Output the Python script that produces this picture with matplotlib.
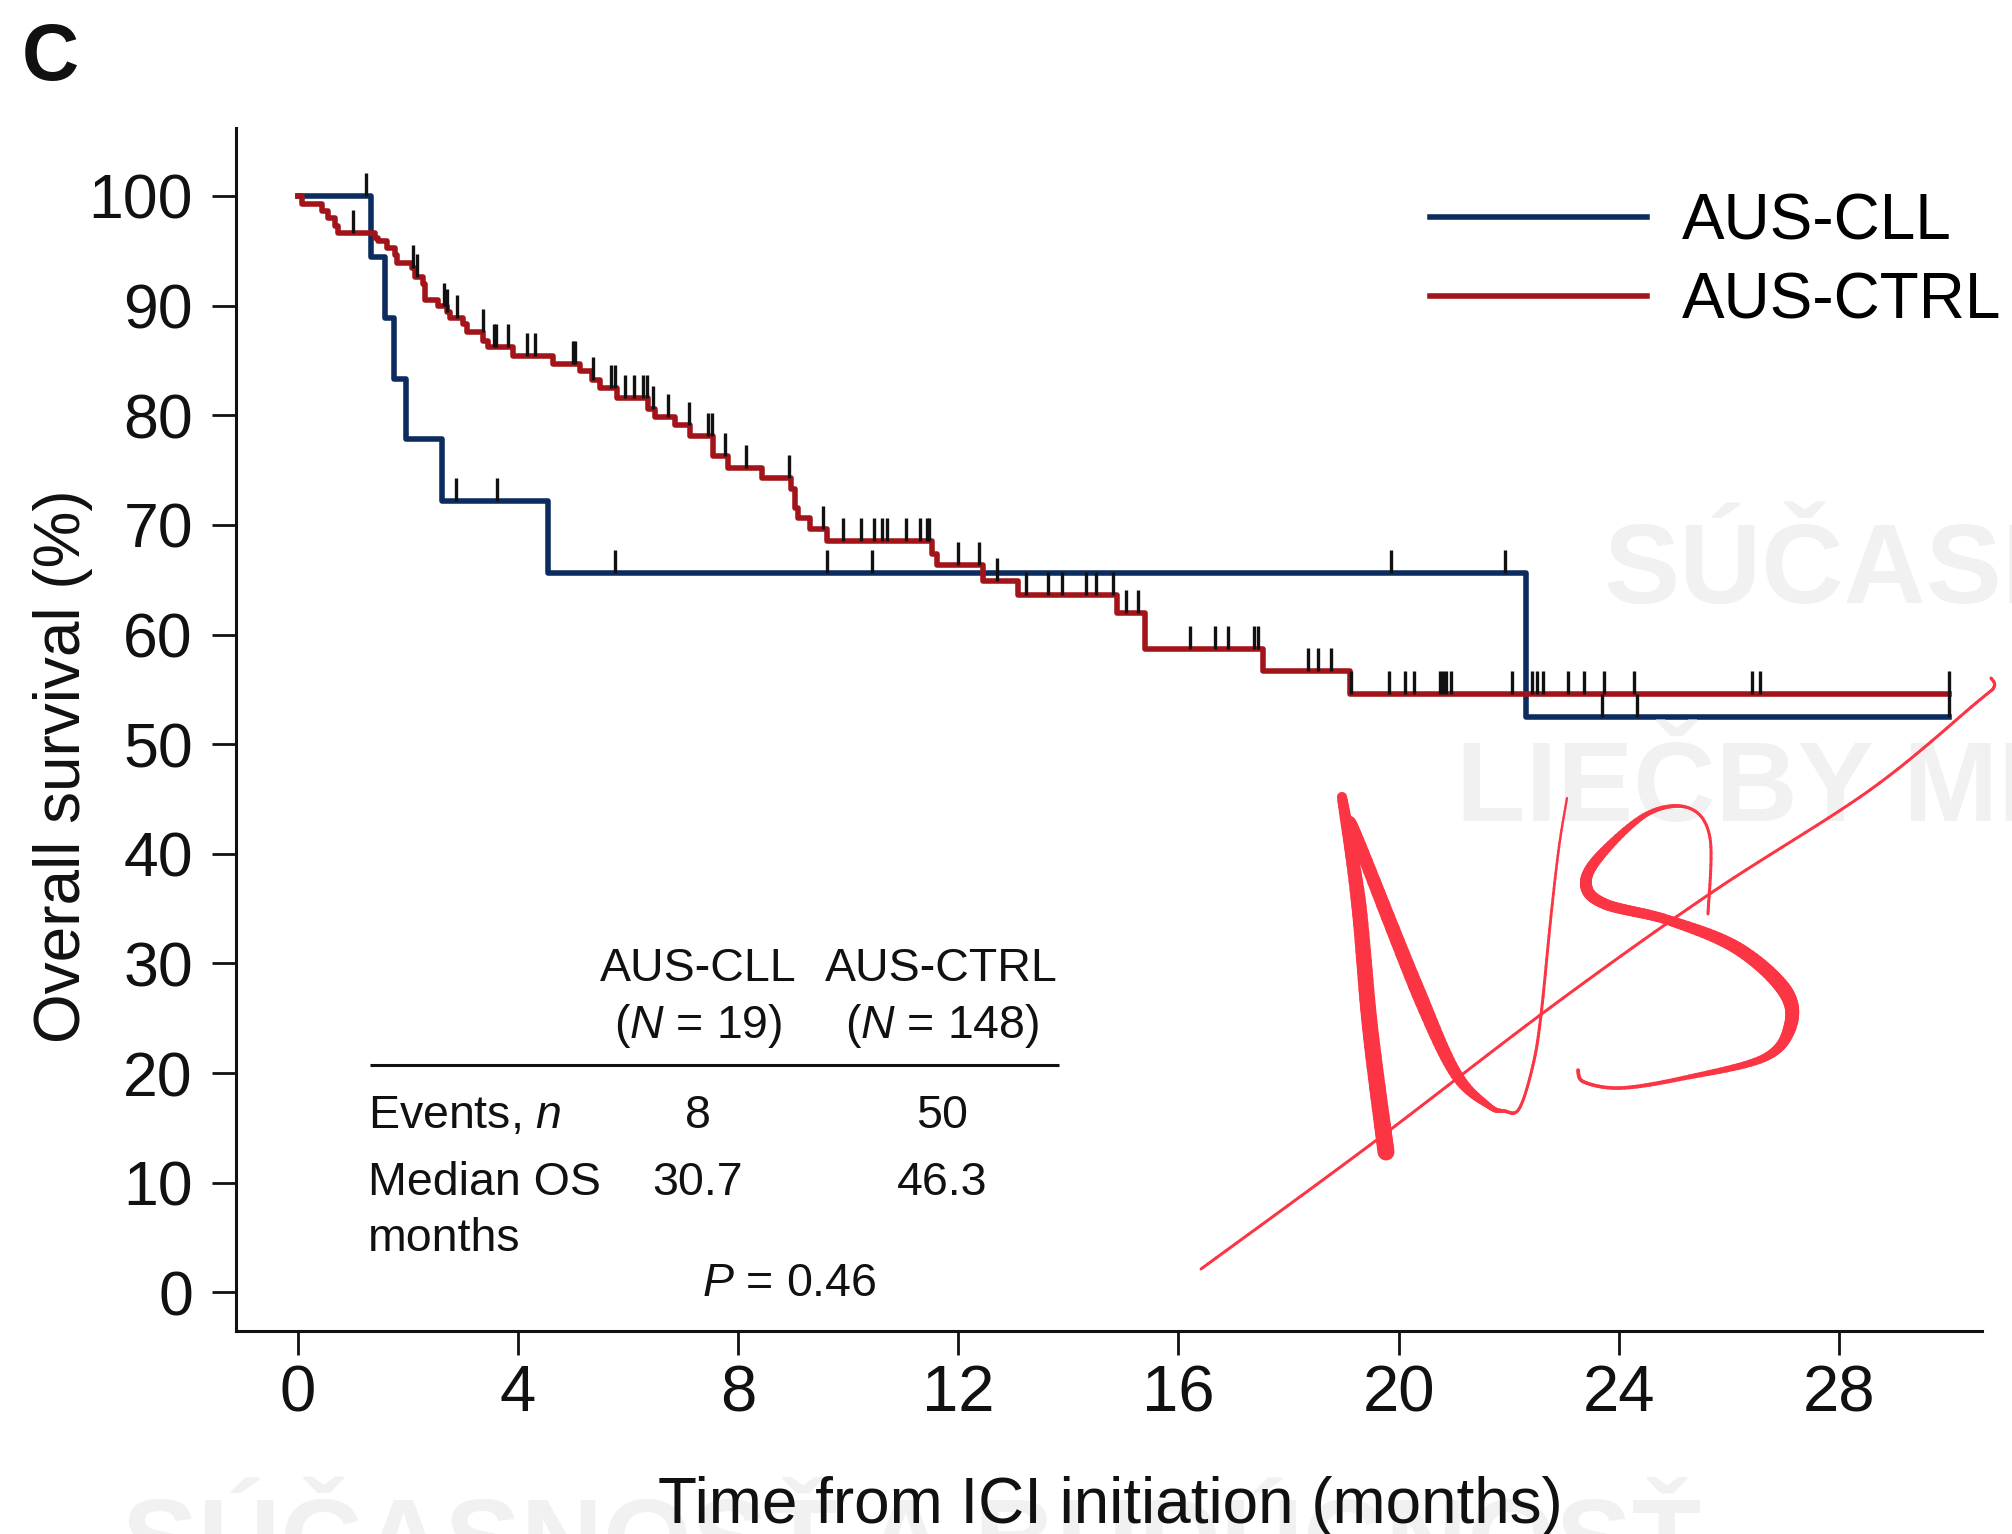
import numpy as np
import matplotlib.pyplot as plt
import matplotlib.transforms as mtransforms
from matplotlib.collections import LineCollection
from matplotlib.lines import Line2D

plt.rcParams['font.family'] = ['Liberation Sans', 'DejaVu Sans']
plt.rcParams['mathtext.fontset'] = 'custom'
plt.rcParams['mathtext.rm'] = 'Liberation Sans'
plt.rcParams['mathtext.it'] = 'Liberation Sans:italic'

# ---- data (months, % surviving) ----
cll_times = [0, 1.33, 1.59, 1.75, 1.97, 2.63, 4.55, 22.31, 30.0]
cll_surv = [100, 94.4, 88.9, 83.3, 77.8, 72.2, 65.6, 52.5, 52.5]
cll_censor = [1.24, 2.88, 3.62, 5.76, 9.62, 10.43, 19.86, 21.93, 23.70, 24.34, 30.0]

ctrl_times = [0, 0.07, 0.44, 0.56, 0.68, 0.74, 1.40, 1.46, 1.62, 1.77, 1.80,
              2.07, 2.13, 2.28, 2.31, 2.55, 2.71, 2.77, 3.01, 3.07, 3.37, 3.46,
              3.92, 4.64, 5.13, 5.34, 5.49, 5.80, 6.37, 6.49, 6.85, 7.13, 7.55,
              7.82, 8.43, 8.97, 9.03, 9.09, 9.31, 9.61, 11.52, 11.61, 12.46,
              13.09, 14.88, 15.39, 17.54, 19.12, 30.0]
ctrl_surv = [100, 99.3, 98.6, 98.0, 97.3, 96.6, 96.2, 95.9, 95.3, 94.6, 93.9,
             93.4, 92.6, 92.0, 90.5, 90.0, 89.4, 88.9, 88.3, 87.6, 86.8, 86.2,
             85.4, 84.7, 84.0, 83.2, 82.5, 81.6, 80.6, 79.8, 79.1, 78.1, 76.3,
             75.2, 74.3, 73.3, 71.5, 70.6, 69.6, 68.5, 67.3, 66.3, 64.9,
             63.6, 62.0, 58.7, 56.7, 54.6, 54.6]
ctrl_censor = [1.00, 2.09, 2.16, 2.66, 2.71, 2.89, 3.36, 3.57, 3.60, 3.83,
               4.17, 4.31, 5.00, 5.04, 5.36, 5.70, 5.76, 5.94, 6.11, 6.28,
               6.34, 6.46, 6.73, 7.11, 7.46, 7.52, 7.76, 8.14, 8.93, 9.55,
               9.90, 10.23, 10.47, 10.61, 10.71, 11.06, 11.31, 11.43, 11.47,
               12.00, 12.37, 12.70, 13.24, 13.64, 13.88, 14.33, 14.51, 14.82,
               15.05, 15.27, 16.21, 16.66, 16.91, 17.38, 17.45, 18.36, 18.54,
               18.77, 19.13, 19.83, 20.11, 20.28, 20.75, 20.81, 20.87, 20.95,
               22.06, 22.42, 22.51, 22.62, 23.08, 23.37, 23.73, 24.27, 26.43,
               26.57, 30.0]

group_labels = ["AUS-CLL", "AUS-CTRL"]
group_n = [19, 148]
events = [8, 50]
median_os = ["30.7", "46.3"]
p_value = "0.46"

x_ticks = [0, 4, 8, 12, 16, 20, 24, 28]
y_ticks = list(range(0, 101, 10))

BLUE = "#0c2c5f"
RED = "#a3141a"
INK = "#111111"
W, H = 2012, 1534


def step_value(times, surv, t):
    idx = np.searchsorted(times, t, side="right") - 1
    return np.asarray(surv)[idx]


fig = plt.figure(figsize=(W / 100, H / 100), dpi=100)
px = mtransforms.Affine2D().scale(1 / W, -1 / H).translate(0, 1) + fig.transFigure

# faint watermark behind everything
wm = dict(transform=px, color="#f1f1f1", fontsize=82, fontweight="bold",
          va="baseline", ha="left", zorder=0)
fig.text(1604, 603, "SÚČASNOSŤ", **wm)
fig.text(1456, 821, "LIEČBY MELANÓMU", **wm)
fig.text(122, 1578, "SÚČASNOSŤ A BUDÚCNOSŤ", **wm)

ax = fig.add_axes([236 / W, 203.3 / H, (1982 - 236) / W, (1406 - 203.3) / H])
ax.patch.set_alpha(0)
ax.set_xlim(-1.12, 30.6)
ax.set_ylim(-3.5, 106.2)

line_cll, = ax.step(cll_times, cll_surv, where="post", color=BLUE, lw=4.0, zorder=3)
line_ctrl, = ax.step(ctrl_times, ctrl_surv, where="post", color=RED, lw=4.0, zorder=4)

for times, surv, cens in [(cll_times, cll_surv, cll_censor),
                          (ctrl_times, ctrl_surv, ctrl_censor)]:
    base = step_value(times, surv, np.array(cens))
    ax.vlines(cens, base, base + 2.1, color=INK, lw=2.4, zorder=5)

for s in ["top", "right"]:
    ax.spines[s].set_visible(False)
for s in ["left", "bottom"]:
    ax.spines[s].set_linewidth(2.2)
    ax.spines[s].set_color(INK)

ax.set_xticks(x_ticks)
ax.set_yticks(y_ticks)
ax.tick_params(axis="both", direction="out", length=17, width=2, color=INK,
               labelcolor=INK)
ax.tick_params(axis="y", labelsize=45, pad=14)
ax.tick_params(axis="x", labelsize=47, pad=7)

fig.text(80, 766, "Overall survival (%)", transform=px, fontsize=46, color=INK,
         rotation=90, rotation_mode="anchor", ha="center", va="baseline")
fig.text(1110, 1523, "Time from ICI initiation (months)", transform=px,
         fontsize=46, color=INK, ha="center", va="baseline")
fig.text(22, 80, "C", transform=px, fontsize=57, fontweight="bold", color=INK,
         va="baseline")

ax.legend([line_cll, line_ctrl], group_labels, loc="upper left",
          bbox_to_anchor=(1430 / W, 1 - 192 / H), bbox_transform=fig.transFigure,
          frameon=False, fontsize=46, handlelength=3.4, handletextpad=0.55,
          borderpad=0, borderaxespad=0, labelspacing=0.3)

# summary table inside the plot
tx = dict(fontsize=33.5, color=INK, va="baseline", zorder=6)
col_x = [7.27, 11.70]
for cx, lab, n, ev, med in zip(col_x, group_labels, group_n, events, median_os):
    ax.text(cx, 28.4, lab, ha="center", **tx)
    ax.text(cx, 23.2, f"($N$ = {n})", ha="center", **tx)
    ax.text(cx, 15.0, str(ev), ha="center", **tx)
    ax.text(cx, 8.85, med, ha="center", **tx)
ax.plot([1.31, 13.83], [20.7, 20.7], color=INK, lw=2.2, solid_capstyle="butt")
ax.text(1.28, 15.0, "Events, $n$", ha="left", **tx)
ax.text(1.28, 8.85, "Median OS", ha="left", **tx)
ax.text(1.28, 3.8, "months", ha="left", **tx)
ax.text(8.94, -0.3, f"$P$ = {p_value}", ha="center", **tx)


# hand-drawn "NS" mark
def smooth(pts, n=14):
    p = np.asarray(pts, float)
    p = np.vstack([p[0], p, p[-1]])
    out = []
    for i in range(1, len(p) - 2):
        p0, p1, p2, p3 = p[i - 1], p[i], p[i + 1], p[i + 2]
        for t in np.linspace(0, 1, n, endpoint=False):
            out.append(0.5 * (2 * p1 + (-p0 + p2) * t
                              + (2 * p0 - 5 * p1 + 4 * p2 - p3) * t ** 2
                              + (-p0 + 3 * p1 - 3 * p2 + p3) * t ** 3))
    out.append(p[-2])
    return np.array(out)


def stroke(pts, widths, n=14, color="#fc3545"):
    curve = smooth(pts, n)
    w = np.interp(np.linspace(0, len(pts) - 1, len(curve)),
                  np.arange(len(pts)), widths)
    segs = np.stack([curve[:-1], curve[1:]], axis=1)
    lc = LineCollection(segs, linewidths=(w[:-1] + w[1:]) / 2 * 0.72,
                        colors=color, transform=px, zorder=7,
                        capstyle="round", joinstyle="round")
    fig.add_artist(lc)


stroke([(1201, 1269), (1370, 1145), (1551, 1007), (1711, 893), (1870, 790),
        (1976, 703), (1994, 687), (1991, 678)], [3] * 8)
stroke([(1342, 797), (1358, 898), (1370, 1027), (1386, 1152)], [10, 15, 16, 17])
stroke([(1350, 821), (1360, 846), (1419, 994), (1456, 1074), (1489, 1106),
        (1504, 1111), (1519, 1109), (1533, 1065), (1541, 1015), (1551, 916),
        (1559, 847), (1567, 798)],
       [10, 13, 15, 12, 6, 3.5, 3, 3, 3, 2.8, 2.5, 2.2])
stroke([(1708, 914), (1710, 838), (1689, 808), (1647, 814), (1599, 857),
        (1586, 885), (1605, 904), (1668, 920), (1737, 948), (1785, 991),
        (1790, 1027), (1764, 1058), (1684, 1078), (1621, 1088), (1584, 1082),
        (1578, 1070)],
       [3, 3, 3, 5, 10, 12, 11, 10, 13, 15, 13, 8, 4.5, 3.5, 3.5, 3.5])

fig.savefig("out.png", dpi=100)
